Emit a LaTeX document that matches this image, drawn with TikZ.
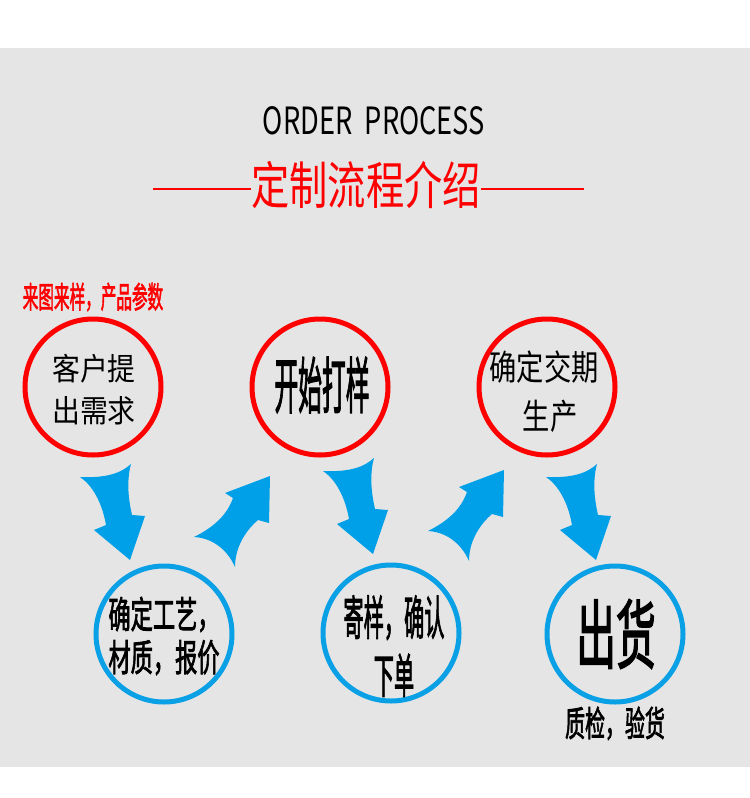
\documentclass[tikz,border=0pt]{standalone}
\usepackage{fontspec}
\usepackage{graphicx}
\usetikzlibrary{positioning}
\newfontfamily\cjk{Noto Sans CJK SC}
\newfontfamily\cjkheavy[FakeBold=2.5]{Noto Sans CJK SC}
\definecolor{ringred}{HTML}{FF0000}
\definecolor{ringblue}{HTML}{0AA0E6}
\definecolor{arrowblue}{HTML}{00A0E9}
\definecolor{panelgray}{HTML}{E5E5E5}
\newcommand{\squeeze}[2]{\scalebox{#1}[1]{#2}}

\begin{document}
\begin{tikzpicture}[
  x=1bp, y=-1bp,
  redring/.style={circle, draw=ringred, line width=5bp, minimum size=136bp, inner sep=0pt},
  bluering/.style={circle, draw=ringblue, line width=5bp, minimum size=136bp, inner sep=0pt},
  ringtext/.style={align=center, inner sep=0pt, text=black},
  redline/.style={draw=ringred, line width=2bp},
  downarrow/.pic={\fill[arrowblue] (0,0) .. controls (25,1) and (40,-3) .. (51,-13)
      .. controls (46,5) and (49,25) .. (52,38) -- (65,39) -- (50,83) -- (14,53) -- (26,48)
      .. controls (22,25) and (12,8) .. (0,0) -- cycle;},
  uparrow/.pic={\fill[arrowblue] (0,0) .. controls (20,-10) and (33,-22) .. (39,-39)
      -- (31,-44) -- (76,-61) -- (75,-14) -- (64,-17)
      .. controls (50,-5) and (41,12) .. (41,30)
      .. controls (33,12) and (18,1) .. (0,0) -- cycle;}
]
% background
\fill[white] (0,0) rectangle (750,798);
\fill[panelgray] (0,48) rectangle (750,767);

% heading
\node[inner sep=0pt, font=\cjk] (title) at (374,121) {\resizebox{222bp}{28bp}{ORDER\hspace{0.45em}PROCESS}};
\node[inner sep=0pt, text=ringred, font=\cjk\fontsize{51bp}{51bp}\selectfont] (subtitle) at (366,185) {\squeeze{0.75}{定制流程介绍}};
\coordinate (ruleL) at (153,189);
\coordinate (ruleR) at (584,189);
\draw[redline] (ruleL) -- (subtitle.west |- ruleL);
\draw[redline] (subtitle.east |- ruleR) -- (ruleR);

% top row
\node[redring] (need) at (93,387) {};
\node[redring] (sample) at (320,387) {};
\node[redring] (schedule) at (547,387) {};
\node[ringtext, text=ringred, font=\cjkheavy\fontsize{30bp}{30bp}\selectfont, above=5bp of need] (input) {\squeeze{0.52}{来图来样，产品参数}};
\node[ringtext, font=\cjk\fontsize{31bp}{42bp}\selectfont] (needtext) at (94,390) {\squeeze{0.9}{客户提}\\\squeeze{0.9}{出需求}};
\node[ringtext, font=\cjkheavy\fontsize{61bp}{61bp}\selectfont] (sampletext) at (322,385) {\squeeze{0.39}{开始打样}};
\node[ringtext, font=\cjk\fontsize{35bp}{49bp}\selectfont] (scheduletext) at (544,392) {\squeeze{0.78}{确定交期}\\\hspace{12bp}\squeeze{0.78}{生产}};

% bottom row
\node[bluering] (quote) at (164,634) {};
\node[bluering] (confirm) at (391,633) {};
\node[bluering] (ship) at (615,634) {};
\node[ringtext, font=\cjkheavy\fontsize{37bp}{43bp}\selectfont] (quotetext) at (164,636) {\squeeze{0.6}{确定工艺，}\\\squeeze{0.6}{材质，报价}};
\node[ringtext, font=\cjkheavy\fontsize{47bp}{58bp}\selectfont] (confirmtext) at (394,646) {\squeeze{0.43}{寄样，确认}\\\squeeze{0.43}{下单}};
\node[ringtext, font=\cjkheavy\fontsize{75bp}{75bp}\selectfont] (shiptext) at (616,634) {\squeeze{0.53}{出货}};
\node[ringtext, font=\cjkheavy\fontsize{35bp}{35bp}\selectfont, below=2bp of ship] (check) {\squeeze{0.57}{质检，验货}};

% flow arrows
\pic (flowA) at (80,477) {downarrow};
\pic (flowB) at (194,537) {uparrow};
\pic (flowC) at (323,471) {downarrow};
\pic (flowD) at (428,531) {uparrow};
\pic (flowE) at (546,477) {downarrow};
\end{tikzpicture}
\end{document}
